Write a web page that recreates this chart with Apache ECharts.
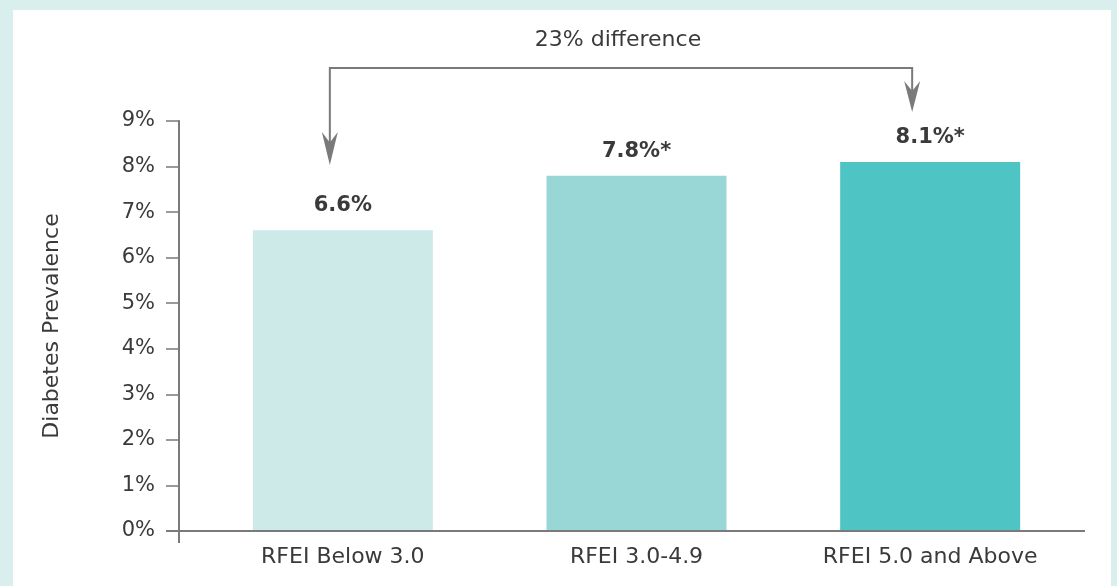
<!DOCTYPE html>
<html>
<head>
<meta charset="utf-8">
<script src="https://cdn.jsdelivr.net/npm/echarts@6/dist/echarts.min.js"></script>
<style>
  html, body { margin: 0; padding: 0; background: #d8efed; }
  #panel { position: absolute; left: 13px; top: 10px; width: 1098px; height: 576px; background: #ffffff; }
  #chart { position: absolute; left: 0; top: 0; width: 1117px; height: 586px; }
</style>
</head>
<body>
<div id="panel"></div>
<div id="chart"></div>
<script>
// Diabetes prevalence by Retail Food Environment Index (RFEI) group
const categories = ['RFEI Below 3.0', 'RFEI 3.0-4.9', 'RFEI 5.0 and Above'];
const prevalence = [6.6, 7.8, 8.1];
const valueLabels = ['6.6%', '7.8%*', '8.1%*'];
const barColors = ['#cde9e8', '#99d6d6', '#4ec4c4'];
const yMin = 0;
const yMax = 9;
const yStep = 1;
const differenceLabel = '23% difference';

const FONT = '"DejaVu Sans", "Noto Sans", sans-serif';
const TEXT = '#3a3a3a';
const LINE = '#7a7a7a';
const GRID = { left: 196, right: 40, top: 121, bottom: 55 };

const chart = echarts.init(document.getElementById('chart'), null, { renderer: 'canvas' });

chart.setOption({
  backgroundColor: 'transparent',
  animation: false,
  textStyle: { fontFamily: FONT },
  grid: GRID,
  xAxis: {
    type: 'category',
    data: categories,
    axisLine: { show: false },
    axisTick: { show: false },
    axisLabel: { color: TEXT, fontSize: 22, margin: 15, fontFamily: FONT }
  },
  yAxis: {
    type: 'value',
    min: yMin,
    max: yMax,
    interval: yStep,
    offset: 17,
    name: 'Diabetes Prevalence',
    nameLocation: 'middle',
    nameGap: 116,
    nameTextStyle: { color: TEXT, fontSize: 22, fontFamily: FONT },
    axisLine: { show: true, lineStyle: { color: LINE, width: 2 } },
    axisTick: { show: true, length: 13, lineStyle: { color: LINE, width: 1.5 } },
    axisLabel: { color: TEXT, fontSize: 21, margin: 24, fontFamily: FONT, formatter: v => v + '%' },
    splitLine: { show: false }
  },
  series: [{
    type: 'bar',
    barWidth: 180,
    data: prevalence.map((v, i) => ({
      value: v,
      itemStyle: { color: barColors[i] },
      label: { formatter: valueLabels[i] }
    })),
    label: {
      show: true,
      position: 'top',
      distance: 14,
      color: TEXT,
      fontSize: 21,
      fontWeight: 'bold',
      fontFamily: FONT
    }
  }]
});

// Axis baseline, bracket and arrows drawn around the bars
function drawAnnotations() {
  const W = chart.getWidth();
  const axisX = GRID.left - 17;
  const baseY = chart.convertToPixel({ yAxisIndex: 0 }, 0);
  const c0 = chart.convertToPixel({ xAxisIndex: 0 }, 0);
  const c2 = chart.convertToPixel({ xAxisIndex: 0 }, 2);

  const bracketY = 68;
  const leftX = c0 - 13;
  const rightX = c2 - 18;
  const leftTip = 165;
  const rightTip = 112;

  function head(x, tip, len) {
    return {
      type: 'polygon',
      shape: { points: [[x, tip], [x - 8, tip - len], [x, tip - len * 0.68], [x + 8, tip - len]] },
      style: { fill: LINE }
    };
  }

  chart.setOption({
    graphic: [
      {
        type: 'line',
        shape: { x1: axisX - 13, y1: baseY, x2: W - GRID.right + 8, y2: baseY },
        style: { stroke: LINE, lineWidth: 2 }, z: 5
      },
      {
        type: 'line',
        shape: { x1: axisX, y1: baseY, x2: axisX, y2: baseY + 12 },
        style: { stroke: LINE, lineWidth: 2 }, z: 5
      },
      {
        type: 'polyline',
        shape: { points: [[leftX, leftTip - 20], [leftX, bracketY], [rightX, bracketY], [rightX, rightTip - 20]] },
        style: { stroke: LINE, lineWidth: 2, fill: null }
      },
      head(leftX, leftTip, 33),
      head(rightX, rightTip, 31),
      {
        type: 'text',
        x: (leftX + rightX) / 2 - 3,
        y: 40,
        style: {
          text: differenceLabel,
          fill: TEXT,
          font: '22px ' + FONT,
          align: 'center',
          verticalAlign: 'middle'
        }
      }
    ]
  });
}
drawAnnotations();
</script>
</body>
</html>
